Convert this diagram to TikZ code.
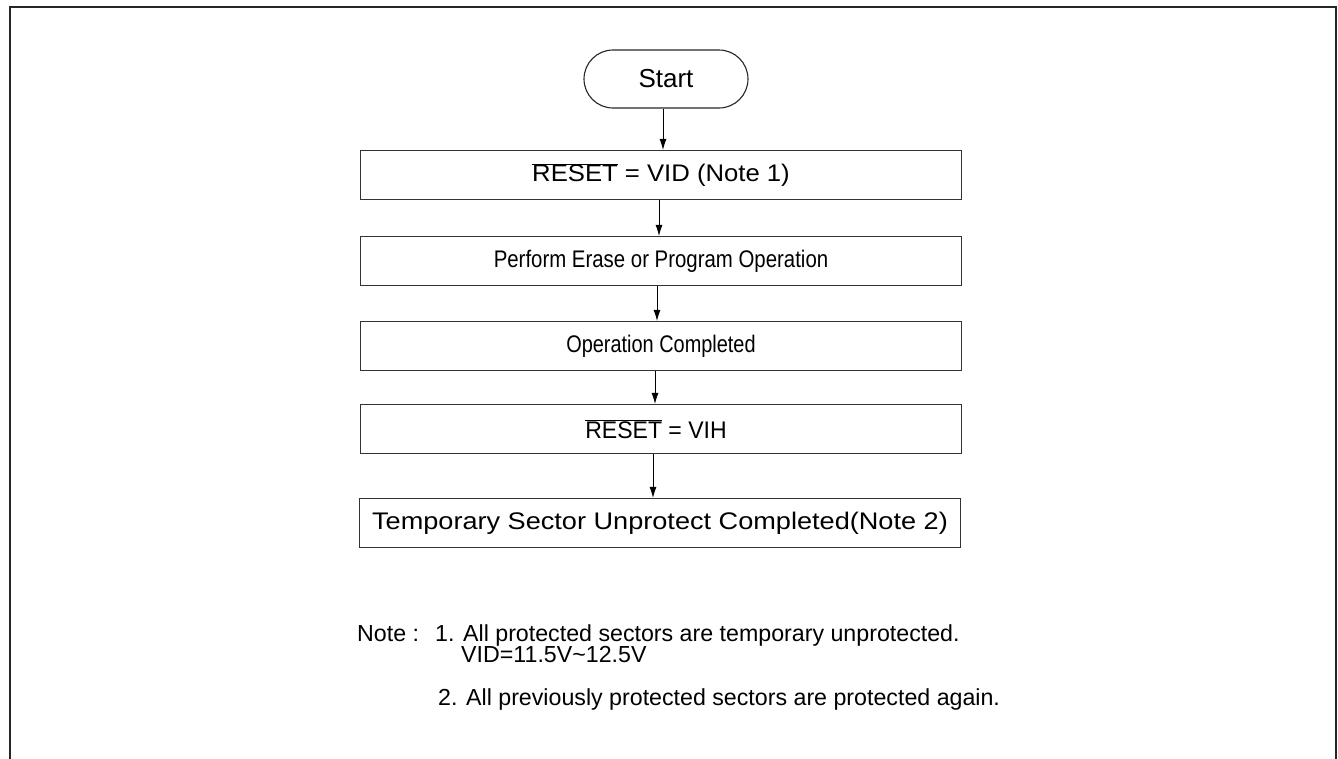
\documentclass[tikz,border=0pt]{standalone}
\usepackage{fontspec}
\usepackage{graphicx}
\setmainfont{Liberation Sans}
\usetikzlibrary{arrows.meta}
\newcommand{\sx}[2]{\scalebox{#1}[1]{#2}}
\begin{document}
\begin{tikzpicture}[x=1pt,y=-1pt,
  frameline/.style={line width=1.6pt,draw=black!85},
  stepbox/.style={draw=black!80,line width=1.1pt,minimum width=601pt,minimum height=49pt,inner sep=0pt,font=\fontsize{24}{28}\selectfont},
  term/.style={draw=black!85,line width=1.1pt,rounded corners=29pt,minimum width=164pt,minimum height=58pt,inner sep=0pt,font=\fontsize{26}{30}\selectfont},
  flow/.style={line width=0.9pt,-{Latex[length=11pt,width=7pt]}},
  notetext/.style={anchor=base west,inner sep=0pt,font=\fontsize{23.2}{27}\selectfont}]
\useasboundingbox (0,0) rectangle (1338,758);
\draw[frameline] (10,760) -- (10,7) -- (1336,7) -- (1336,760);
\node[term] (start) at (666,79) {Start};
\node[stepbox] (b1) at (661,175) {\sx{1.07}{$\overline{\mbox{RESET}}$ = VID (Note 1)}};
\node[stepbox] (b2) at (661,261) {\sx{0.85}{Perform Erase or Program Operation}};
\node[stepbox] (b3) at (661,346) {\sx{0.83}{Operation Completed}};
\node[stepbox] (b4) at (661,429) {\hspace*{-10pt}\sx{0.96}{$\overline{\mbox{RESET}}$ = VIH}};
\node[stepbox] (b5) at (660,523) {\sx{1.13}{Temporary Sector Unprotect Completed(Note 2)}};
\draw[flow] ([xshift=-3pt]start.south) -- ([xshift=2pt]b1.north);
\draw[flow] ([xshift=-2pt]b1.south) -- ([xshift=-2pt]b2.north);
\draw[flow] ([xshift=-4pt]b2.south) -- ([xshift=-4pt]b3.north);
\draw[flow] ([xshift=-6pt]b3.south) -- ([xshift=-6pt]b4.north);
\draw[flow] ([xshift=-8pt]b4.south) -- ([xshift=-7pt]b5.north);
\node[notetext] (n0) at (357,641) {Note :};
\node[notetext] (n1) at (435,641) {1. All protected sectors are temporary unprotected.};
\node[notetext] (n1b) at (461,662) {VID=11.5V\textasciitilde 12.5V};
\node[notetext] (n2) at (438,705) {2. All previously protected sectors are protected again.};
\end{tikzpicture}
\end{document}
